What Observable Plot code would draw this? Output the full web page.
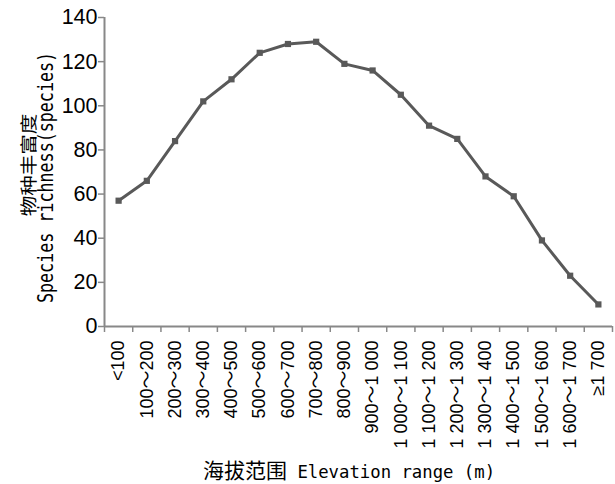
<!DOCTYPE html>
<html><head><meta charset="utf-8">
<script src="https://cdn.jsdelivr.net/npm/d3@7"></script>
<script src="https://cdn.jsdelivr.net/npm/@observablehq/plot@0.6"></script>
<style>body{margin:0;background:#fff}</style>
</head><body><div id="chart"></div>
<script>
const categories = ["<100","100～200","200～300","300～400","400～500","500～600","600～700","700～800","800～900","900～1 000","1 000～1 100","1 100～1 200","1 200～1 300","1 300～1 400","1 400～1 500","1 500～1 600","1 600～1 700","≥1 700"];
const richness = [57,66,84,102,112,124,128,129,119,116,105,91,85,68,59,39,23,10];
const yTicks = [0,20,40,60,80,100,120,140];
const yTitleZh = "物种丰富度";
const yTitleEn = "Species richness(species)";
const xTitleZh = "海拔范围";
const xTitleEn = " Elevation range (m)";

const data = categories.map((c, i) => ({i, c, v: richness[i]}));
const axisGray = "#888888";
const lineColor = "#595959";

const chart = Plot.plot({
  width: 615, height: 484,
  marginLeft: 104, marginRight: 3, marginTop: 17, marginBottom: 158,
  style: {fontFamily: "'Liberation Sans', Arial, 'Noto Sans CJK SC', sans-serif", fontSize: "18px", background: "#fff", color: "#000"},
  x: {type: "linear", domain: [-0.5, categories.length - 0.5]},
  y: {domain: [0, 140]},
  marks: [
    Plot.axisY({ticks: yTicks, tickSize: 6, tickPadding: 1, fontSize: 21.5, stroke: axisGray, strokeWidth: 1.5, fill: "#000", label: null, tickFormat: d => d}),
    Plot.axisX({ticks: d3.range(-0.5, categories.length, 1), tickSize: 6, tickFormat: () => "", stroke: axisGray, strokeWidth: 1.5, label: null}),
    Plot.axisX({ticks: d3.range(categories.length), tickSize: 0, tickPadding: 14, tickRotate: -90, tickFormat: i => categories[i], fontSize: 18, fill: "#000", label: null}),
    Plot.ruleX([-0.5], {stroke: axisGray, strokeWidth: 2}),
    Plot.ruleY([0], {stroke: axisGray, strokeWidth: 2}),
    Plot.line(data, {x: "i", y: "v", stroke: lineColor, strokeWidth: 3}),
    Plot.dot(data, {x: "i", y: "v", symbol: "square", r: 3.5, fill: lineColor, stroke: "none"})
  ]
});

const svg = d3.select(chart);
svg.append("text")
  .attr("transform", "translate(35,165) rotate(-90) scale(1,0.85)")
  .attr("text-anchor", "middle")
  .style("font-family", "'Noto Sans CJK SC', sans-serif")
  .style("font-size", "20.5px")
  .attr("fill", "#000")
  .text(yTitleZh);
svg.append("text")
  .attr("transform", "translate(53,177.5) rotate(-90) scale(1,1.25)")
  .attr("text-anchor", "middle")
  .style("font-family", "'DejaVu Sans Mono', monospace")
  .style("font-size", "16.7px")
  .attr("fill", "#000")
  .text(yTitleEn);
const xt = svg.append("text")
  .attr("x", 203).attr("y", 478)
  .attr("text-anchor", "start")
  .attr("fill", "#000");
xt.append("tspan")
  .style("font-family", "'Noto Sans CJK SC', sans-serif")
  .style("font-size", "21px")
  .text(xTitleZh);
xt.append("tspan")
  .style("font-family", "'DejaVu Sans Mono', monospace")
  .style("font-size", "17.3px")
  .style("white-space", "pre")
  .text(xTitleEn);

document.getElementById("chart").appendChild(chart);
</script>
</body></html>
